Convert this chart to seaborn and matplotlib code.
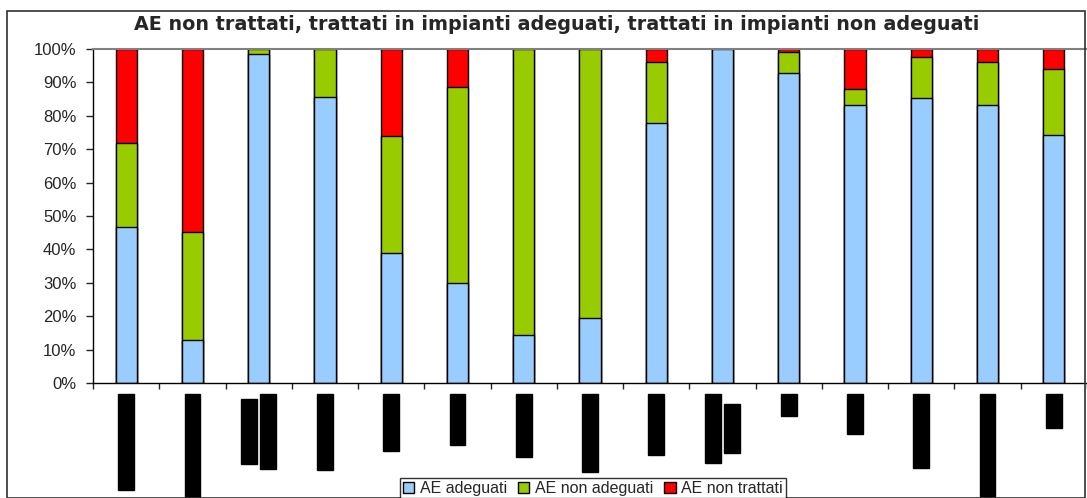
import numpy as np
import pandas as pd
import seaborn as sns
import matplotlib.pyplot as plt
from matplotlib.patches import Patch, Rectangle

# data (percent shares per bar)
labels = ["Emilia Romagna", "Friuli Venezia Giulia", "P.A. Trento\nP.A. Bolzano", "Valle d'Aosta",
          "Piemonte", "Toscana", "Lombardia", "Alto Adriatico", "Campania",
          "Provincia di\nBolzano", "AQ", "Molise", "Sicilia Ovest",
          "Sardegna e Calabria", "Lazio"]
adeguati = [46.8, 13.0, 98.5, 85.5, 39.0, 30.0, 14.5, 19.5, 77.8, 100.0, 92.7, 83.2, 85.2, 83.2, 74.2]
non_adeguati = [25.2, 32.3, 1.5, 14.5, 35.0, 58.5, 85.5, 80.5, 18.4, 0.0, 6.5, 4.8, 12.3, 12.8, 19.8]
non_trattati = [28.0, 54.7, 0.0, 0.0, 26.0, 11.5, 0.0, 0.0, 3.8, 0.0, 0.8, 12.0, 2.5, 4.0, 6.0]
series_names = ["AE adeguati", "AE non adeguati", "AE non trattati"]
colors = ["#99CCFF", "#99CC00", "#FF0000"]
title = "AE non trattati, trattati in impianti adeguati, trattati in impianti non adeguati"

df = pd.DataFrame({"cat": labels, "a": adeguati, "b": non_adeguati, "c": non_trattati})
df["ab"] = df["a"] + df["b"]
df["abc"] = df["ab"] + df["c"]

sns.set_style("white")
plt.rcParams["font.family"] = ["Liberation Sans", "DejaVu Sans"]

fig = plt.figure(figsize=(10.87, 4.98), dpi=100)
ax = fig.add_axes([93 / 1087, 115 / 498, 994 / 1087, 334 / 498])

# stacked bars: draw cumulative layers from the top down
for col, c in [("abc", colors[2]), ("ab", colors[1]), ("a", colors[0])]:
    sns.barplot(data=df, x="cat", y=col, color=c, width=0.32, edgecolor="black",
                linewidth=1.0, saturation=1, ax=ax)

ax.set_ylim(0, 100)
ax.set_xlim(-0.5, len(labels) - 0.5)
ax.set_yticks(np.arange(0, 101, 10))
ax.set_yticklabels([f"{v}%" for v in range(0, 101, 10)], fontsize=12)
ax.tick_params(axis="y", length=5, width=1, direction="out", pad=7, left=True)
ax.set_xlabel("")
ax.set_ylabel("")

# x ticks between categories, labels drawn separately
ax.set_xticks(range(len(labels)))
ax.set_xticklabels([])
ax.tick_params(axis="x", which="major", length=0)
ax.set_xticks(np.arange(-0.5, len(labels)), minor=True)
ax.tick_params(axis="x", which="minor", length=4, width=1, direction="out", bottom=True)

for side in ["left", "bottom"]:
    ax.spines[side].set_color("black")
    ax.spines[side].set_linewidth(1)
ax.spines["top"].set_color("#808080")
ax.spines["top"].set_linewidth(1.5)
ax.spines["right"].set_visible(False)

# category labels: rotated, each line as its own text (rendered black on black)
groups = []
for i, lab in enumerate(labels):
    lines = lab.split("\n")
    n = len(lines)
    grp = []
    for j, line in enumerate(lines):
        dx = (j - (n - 1) / 2) * 13.5
        t = ax.annotate(line, xy=(i, 0), xycoords="data", xytext=(dx, -9.5),
                        textcoords="offset points", rotation=90, ha="center", va="top",
                        fontsize=9, color="black",
                        bbox=dict(boxstyle="square,pad=0.15", fc="black", ec="black"),
                        annotation_clip=False)
        grp.append(t)
    groups.append(grp)

# center the lines of two-line labels on each other
fig.canvas.draw()
r = fig.canvas.get_renderer()
for grp in groups:
    if len(grp) < 2:
        continue
    hs = [t.get_window_extent(r).height for t in grp]
    for t, h in zip(grp, hs):
        dx, dy = t.xyann
        t.xyann = (dx, dy - (max(hs) - h) / 2 * 72 / 100)

fig.text(557 / 1087, 1 - 25 / 498, title, ha="center", va="center", fontsize=13.8,
         fontweight="bold", family="DejaVu Sans")

handles = [Patch(facecolor=c, edgecolor="black", linewidth=1) for c in colors]
leg = fig.legend(handles, series_names, loc="upper center", bbox_to_anchor=(0.5455, 1 - 478 / 498),
                 ncol=3, frameon=True, fancybox=False, edgecolor="black", fontsize=11.5,
                 handlelength=0.7, handleheight=0.7, handletextpad=0.35, columnspacing=0.7,
                 borderpad=0.2, borderaxespad=0)
leg.get_frame().set_linewidth(1)

fig.patches.append(Rectangle((7 / 1087, 0), 1078 / 1087, 1 - 11 / 498, transform=fig.transFigure,
                             fill=False, edgecolor="#303030", linewidth=1.2))

fig.savefig("out.png", dpi=100)
